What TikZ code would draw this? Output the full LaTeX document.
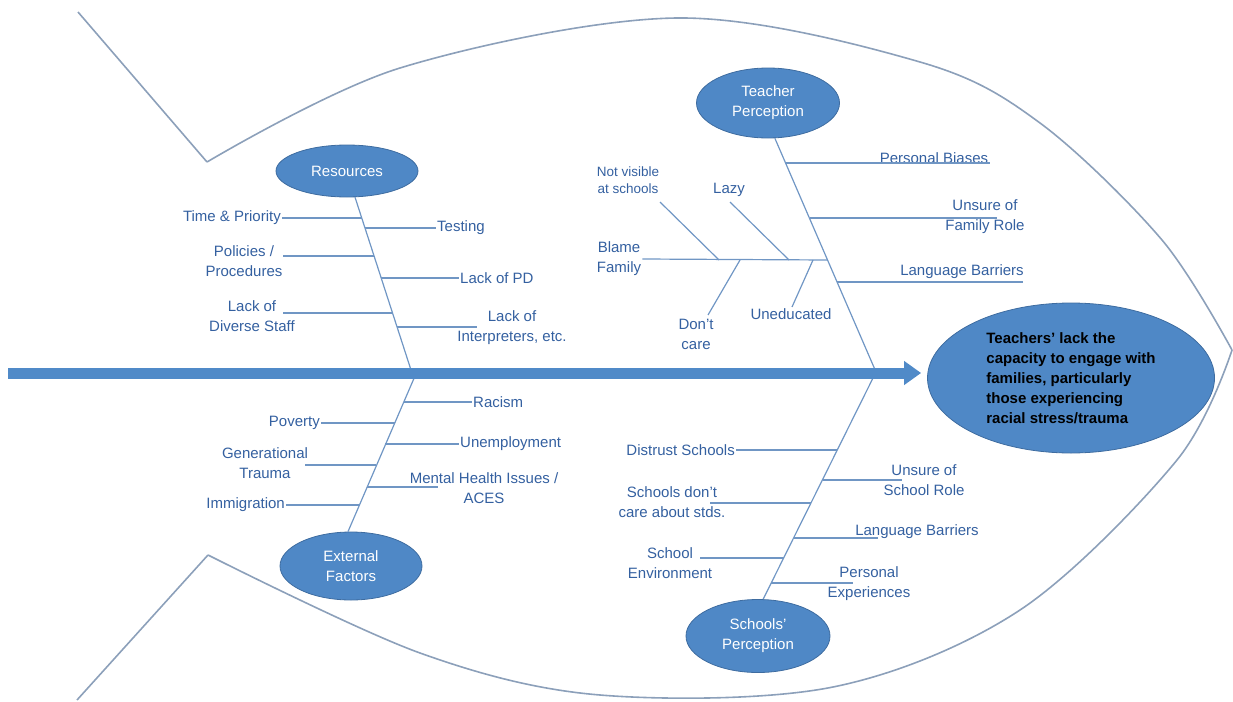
\documentclass[tikz,border=0pt]{standalone}
\usepackage{fontspec}
\setmainfont{Liberation Sans}
\usetikzlibrary{shapes.geometric,arrows.meta,calc}

\definecolor{bubble}{RGB}{79,136,198}
\definecolor{bubbleedge}{RGB}{62,108,160}
\definecolor{labelblue}{RGB}{52,96,160}
\definecolor{bonecol}{RGB}{112,150,196}
\definecolor{fishcol}{RGB}{140,160,186}
\definecolor{arrowblue}{RGB}{80,138,200}

\tikzset{
  cat/.style={ellipse, draw=bubbleedge, line width=0.8pt, fill=bubble, text=white,
    inner sep=0pt, align=center, font=\fontsize{15}{20}\selectfont},
  lbl/.style={text=labelblue, inner sep=1pt, align=center, font=\fontsize{15}{20}\selectfont},
  smalllbl/.style={text=labelblue, inner sep=1pt, align=center, font=\fontsize{13.5}{17}\selectfont},
  bone/.style={draw=bonecol, line width=1.2pt},
  outline/.style={draw=fishcol, line width=1.6pt, line join=miter},
  bigarrow/.style={draw=arrowblue, line width=11pt, -{Triangle[length=17pt,width=23pt]}},
}

\begin{document}
\begin{tikzpicture}[x=1pt,y=-1pt]
\useasboundingbox (0,0) rectangle (1233,701);

% ---------------- fish outline ----------------
\draw[outline] (78,12) -- (207,162)
  plot[smooth, tension=0.55] coordinates {(207,162) (400,68) (677,18) (920,62) (1040,123) (1162,240) (1232,350)};
\draw[outline] (77,700) -- (208,555)
  plot[smooth, tension=0.55] coordinates {(208,555) (420,653) (600,695) (833,687) (1020,610) (1177,460) (1232,350)};

% ---------------- category bubbles ----------------
\node[cat, minimum width=142, minimum height=52] (res) at (347,171) {Resources};
\node[cat, minimum width=143, minimum height=70] (tp)  at (768,103) {Teacher\\Perception};
\node[cat, minimum width=142, minimum height=68] (ext) at (351,566) {External\\Factors};
\node[cat, minimum width=144, minimum height=73] (sp)  at (758,636) {Schools’\\Perception};
\node[cat, minimum width=287, minimum height=150, text=black, align=left,
      font=\bfseries\fontsize{15}{20}\selectfont] (head) at (1071,378)
  {Teachers’ lack the\\capacity to engage with\\families, particularly\\those experiencing\\racial stress/trauma};

% ---------------- spines ----------------
\coordinate (rbot)  at (411,370);
\coordinate (tpbot) at (876,372);
\coordinate (ebot)  at (415,376);
\coordinate (sbot)  at (874,376);
\draw[bone] (res.-73) -- (rbot);
\draw[bone] (tp.-79) -- (tpbot);
\draw[bone] (ext.95) -- (ebot);
\draw[bone] (sp.82) -- (sbot);

% ---------------- Resources branches ----------------
\node[lbl, anchor=east] (tprio) at (282,218) {Time \& Priority};
\node[lbl, anchor=west] (testing) at (436,228) {Testing};
\node[lbl] (policies) at (244,261) {Policies /\\Procedures};
\node[lbl, anchor=west] (lackpd) at (459,278) {Lack of PD};
\node[lbl] (diverse) at (252,316) {Lack of\\Diverse Staff};
\node[lbl] (interp) at (512,328) {Lack of\\Interpreters, etc.};

\coordinate (r1) at (361.8,218);
\coordinate (r2) at (365,228);
\coordinate (r3) at (374.1,256);
\coordinate (r4) at (381.2,278);
\coordinate (r5) at (392.5,313);
\coordinate (r6) at (397.1,327);
\coordinate (polend) at (283,256);
\coordinate (divend) at (283,313);
\coordinate (intend) at (477,327);

\draw[bone] (tprio.east) -- (r1);
\draw[bone] (r2) -- (testing.west);
\draw[bone] (polend) -- (r3);
\draw[bone] (r4) -- (lackpd.west);
\draw[bone] (divend) -- (r5);
\draw[bone] (r6) -- (intend);

% ---------------- Teacher Perception branches ----------------
\node[lbl] (pbias) at (934,158) {Personal Biases};
\node[lbl] (unsfam) at (985,217) {Unsure of\\Family Role};
\node[lbl] (langone) at (962,272) {Language Barriers};
\node[lbl] (blame) at (619,259) {Blame\\Family};
\node[smalllbl] (notvis) at (628,180) {Not visible\\at schools};
\node[lbl] (lazy) at (729,190) {Lazy};
\node[lbl] (dontcare) at (696,334) {Don’t\\care};
\node[lbl] (uneduc) at (791,314) {Uneducated};

\coordinate (t1) at (785.8,163);
\coordinate (t2) at (809.5,218);
\coordinate (t3) at (827.7,260);
\coordinate (t4) at (837.2,282);
\coordinate (pbend) at (990,163);
\coordinate (ufend) at (997,218);
\coordinate (lbend) at (1023,282);

\draw[bone] (t1) -- (pbend);
\draw[bone] (t2) -- (ufend);
\draw[bone] (t4) -- (lbend);
\draw[bone] (blame.east) -- (t3);

% sub-branches on the "Blame Family" bone
\coordinate (bnv) at (719,260);
\coordinate (bnvend) at (660,202);
\coordinate (blz) at (789,260);
\coordinate (blzend) at (730,202);
\coordinate (bdc) at (740,260);
\coordinate (bdcend) at (708,315);
\coordinate (bun) at (813,260);
\coordinate (bunend) at (792,307);
\draw[bone] (bnvend) -- (bnv);
\draw[bone] (blzend) -- (blz);
\draw[bone] (bdc) -- (bdcend);
\draw[bone] (bun) -- (bunend);

% ---------------- External Factors branches ----------------
\node[lbl, anchor=west] (racism) at (472,402) {Racism};
\node[lbl, anchor=east] (poverty) at (321,423) {Poverty};
\node[lbl, anchor=west] (unemp) at (459,444) {Unemployment};
\node[lbl] (gentr) at (265,463) {Generational\\Trauma};
\node[lbl] (mental) at (484,488) {Mental Health Issues /\\ACES};
\node[lbl, anchor=east] (immig) at (286,505) {Immigration};

\coordinate (e1) at (403.7,402);
\coordinate (e2) at (394.5,423);
\coordinate (e3) at (385.4,444);
\coordinate (e4) at (376.3,465);
\coordinate (e5) at (366.7,487);
\coordinate (e6) at (358.9,505);
\coordinate (gtend) at (305,465);
\coordinate (mhend) at (438,487);

\draw[bone] (e1) -- (racism.west);
\draw[bone] (poverty.east) -- (e2);
\draw[bone] (e3) -- (unemp.west);
\draw[bone] (gtend) -- (e4);
\draw[bone] (e5) -- (mhend);
\draw[bone] (immig.east) -- (e6);

% ---------------- Schools' Perception branches ----------------
\node[lbl, anchor=east] (distrust) at (736,450) {Distrust Schools};
\node[lbl] (unssch) at (924,480) {Unsure of\\School Role};
\node[lbl] (sdont) at (672,502) {Schools don’t\\care about stds.};
\node[lbl] (langtwo) at (917,532) {Language Barriers};
\node[lbl] (schenv) at (670,563) {School\\Environment};
\node[lbl] (persexp) at (869,584) {Personal\\Experiences};

\coordinate (s1) at (837.3,450);
\coordinate (s2) at (822.5,480);
\coordinate (s3) at (811.1,503);
\coordinate (s4) at (793.7,538);
\coordinate (s5) at (783.8,558);
\coordinate (s6) at (771.4,583);
\coordinate (usend) at (902,480);
\coordinate (sdend) at (710,503);
\coordinate (lb2end) at (878,538);
\coordinate (seend) at (700,558);
\coordinate (peend) at (853,583);

\draw[bone] (distrust.east) -- (s1);
\draw[bone] (s2) -- (usend);
\draw[bone] (sdend) -- (s3);
\draw[bone] (s4) -- (lb2end);
\draw[bone] (seend) -- (s5);
\draw[bone] (s6) -- (peend);

% ---------------- main arrow ----------------
\coordinate (atail) at (8,373);
\draw[bigarrow] (atail) -- ([xshift=-6pt]atail -| head.west);

\end{tikzpicture}
\end{document}
